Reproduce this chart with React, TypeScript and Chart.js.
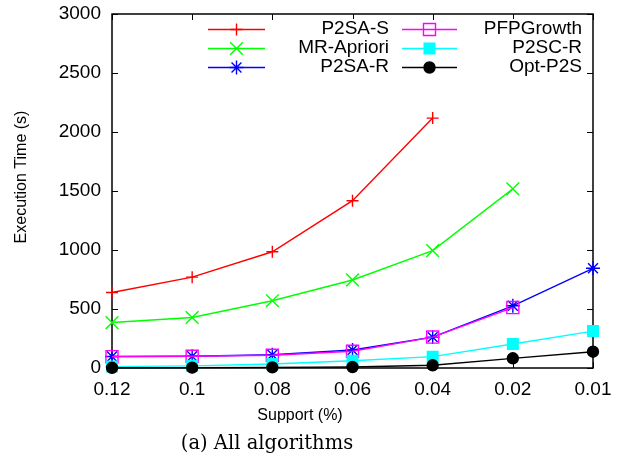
import { useEffect, useRef } from 'react';
import { Chart, registerables } from 'chart.js';

Chart.register(...registerables);

// Support thresholds (%) along the x axis
const supportLabels = ['0.12', '0.1', '0.08', '0.06', '0.04', '0.02', '0.01'];

// Execution time (s) per algorithm; null where a run was not reported
const p2saS = [640, 770, 985, 1418, 2118, null, null];
const mrApriori = [385, 428, 570, 746, 995, 1518, null];
const p2saR = [98, 100, 112, 152, 262, 527, 845];
const pfpGrowth = [96, 100, 108, 142, 262, 512, null];
const p2scR = [12, 18, 34, 62, 96, 203, 313];
const optP2S = [2, 3, 5, 8, 23, 82, 138];

const seriesNames = ['P2SA-S', 'MR-Apriori', 'P2SA-R', 'PFPGrowth', 'P2SC-R', 'Opt-P2S'];
const seriesValues = [p2saS, mrApriori, p2saR, pfpGrowth, p2scR, optP2S];
const seriesColors = ['#ff0000', '#00ff00', '#0000ff', '#ff00ff', '#00ffff', '#000000'];
const seriesMarkers = ['cross', 'crossRot', 'star', 'rect', 'rect', 'circle'];
const seriesMarkerSizes = [6, 9, 7, 8.5, 7.5, 5.5];
const seriesFilled = [false, false, false, false, true, true];

const yMax = 3000;
const yStep = 500;

const SANS = "'Liberation Sans', Arial, Helvetica, sans-serif";
const LINE_W = 1.4;

const markerFill = (i: number) => (seriesFilled[i] ? seriesColors[i] : 'rgba(0,0,0,0)');

// Same marker geometry as Chart.js point styles, for the key samples
function keyMarker(ctx: CanvasRenderingContext2D, i: number, x: number, y: number) {
  const r = seriesMarkerSizes[i];
  const d = r * Math.SQRT1_2;
  const color = seriesColors[i];
  ctx.save();
  ctx.strokeStyle = color;
  ctx.fillStyle = color;
  ctx.lineWidth = LINE_W;
  ctx.beginPath();
  switch (seriesMarkers[i]) {
    case 'cross':
      ctx.moveTo(x - r, y); ctx.lineTo(x + r, y);
      ctx.moveTo(x, y - r); ctx.lineTo(x, y + r);
      ctx.stroke();
      break;
    case 'crossRot':
      ctx.moveTo(x - d, y - d); ctx.lineTo(x + d, y + d);
      ctx.moveTo(x - d, y + d); ctx.lineTo(x + d, y - d);
      ctx.stroke();
      break;
    case 'star':
      ctx.moveTo(x - r, y); ctx.lineTo(x + r, y);
      ctx.moveTo(x, y - r); ctx.lineTo(x, y + r);
      ctx.moveTo(x - d, y - d); ctx.lineTo(x + d, y + d);
      ctx.moveTo(x - d, y + d); ctx.lineTo(x + d, y - d);
      ctx.stroke();
      break;
    case 'rect':
      ctx.rect(x - d, y - d, 2 * d, 2 * d);
      if (seriesFilled[i]) ctx.fill();
      ctx.stroke();
      break;
    case 'circle':
      ctx.arc(x, y, r, 0, Math.PI * 2);
      ctx.fill();
      ctx.stroke();
      break;
  }
  ctx.restore();
}

// Box border with inward ticks on all four sides
const framePlugin = {
  id: 'gnuFrame',
  beforeDatasetsDraw(chart: any) {
    const { ctx, chartArea: a, scales } = chart;
    const tl = 6;
    ctx.save();
    ctx.strokeStyle = '#000';
    ctx.lineWidth = 1;
    ctx.beginPath();
    scales.y.ticks.forEach((t: any) => {
      const y = Math.round(scales.y.getPixelForValue(t.value)) + 0.5;
      ctx.moveTo(a.left, y);
      ctx.lineTo(a.left + tl, y);
      ctx.moveTo(a.right, y);
      ctx.lineTo(a.right - tl, y);
    });
    supportLabels.forEach((_, i) => {
      const x = Math.round(scales.x.getPixelForValue(i)) + 0.5;
      ctx.moveTo(x, a.bottom);
      ctx.lineTo(x, a.bottom - tl);
      ctx.moveTo(x, a.top);
      ctx.lineTo(x, a.top + tl);
    });
    ctx.stroke();
    ctx.lineWidth = 1.5;
    ctx.strokeRect(a.left, a.top, a.right - a.left, a.bottom - a.top);
    ctx.restore();
  },
};

// Two-column key, axis titles and caption
const annotatePlugin = {
  id: 'gnuKey',
  afterDatasetsDraw(chart: any) {
    const ctx: CanvasRenderingContext2D = chart.ctx;
    const columns = [
      { lineFrom: 208, lineTo: 265, textRight: 389 },
      { lineFrom: 402, lineTo: 457, textRight: 582 },
    ];
    const rows = [29, 48, 67];
    seriesNames.forEach((name, i) => {
      const col = columns[Math.floor(i / 3)];
      const y = rows[i % 3];
      ctx.save();
      ctx.font = `19px ${SANS}`;
      ctx.textBaseline = 'middle';
      ctx.textAlign = 'right';
      const w = ctx.measureText(name).width;
      ctx.fillStyle = '#ffffff';
      ctx.fillRect(col.textRight - w - 1, y - 10, w + 2, 20);
      ctx.fillStyle = '#000000';
      ctx.fillText(name, col.textRight, y);
      ctx.restore();

      ctx.save();
      ctx.strokeStyle = seriesColors[i];
      ctx.lineWidth = LINE_W;
      ctx.beginPath();
      ctx.moveTo(col.lineFrom, y + 0.5);
      ctx.lineTo(col.lineTo, y + 0.5);
      ctx.stroke();
      ctx.restore();
      keyMarker(ctx, i, (col.lineFrom + col.lineTo) / 2, y + 0.5);
    });

    ctx.save();
    ctx.textAlign = 'center';
    ctx.textBaseline = 'middle';
    ctx.fillStyle = '#000';
    ctx.font = `16px ${SANS}`;
    ctx.fillText('Support (%)', 300, 416);
    ctx.save();
    ctx.translate(22, 177);
    ctx.rotate(-Math.PI / 2);
    ctx.fillText('Execution Time (s)', 0, 0);
    ctx.restore();

    ctx.font = "19.5px 'DejaVu Serif', serif";
    ctx.fillText('(a) All algorithms', 267, 444);
    ctx.restore();
  },
};

export default function App() {
  const canvasRef = useRef<HTMLCanvasElement | null>(null);

  useEffect(() => {
    const canvas = canvasRef.current;
    if (!canvas) return;
    const chart = new Chart(canvas, {
      type: 'line',
      data: {
        labels: supportLabels,
        datasets: seriesNames.map((name, i) => ({
          label: name,
          data: seriesValues[i],
          borderColor: seriesColors[i],
          backgroundColor: markerFill(i),
          borderWidth: LINE_W,
          pointStyle: seriesMarkers[i] as any,
          pointRadius: seriesMarkerSizes[i],
          pointHoverRadius: seriesMarkerSizes[i],
          pointBorderWidth: LINE_W,
          pointBorderColor: seriesColors[i],
          pointBackgroundColor: markerFill(i),
          tension: 0,
          spanGaps: false,
          clip: false as any,
          order: seriesNames.length - 1 - i,
        })),
      },
      options: {
        responsive: false,
        animation: false,
        devicePixelRatio: 1,
        layout: { padding: { left: 0, top: 14, right: 26, bottom: 0 } },
        plugins: {
          legend: { display: false },
          tooltip: { enabled: false },
        },
        scales: {
          x: {
            type: 'category',
            offset: false,
            grid: { display: false, drawTicks: false },
            border: { display: false },
            ticks: {
              color: '#000',
              font: { family: SANS, size: 19 },
              padding: 10,
              autoSkip: false,
              maxRotation: 0,
            },
            afterFit: (scale: any) => {
              scale.height = 95;
              scale.paddingLeft = 0;
              scale.paddingRight = 0;
            },
          },
          y: {
            min: 0,
            max: yMax,
            grid: { display: false, drawTicks: false },
            border: { display: false },
            ticks: {
              stepSize: yStep,
              color: '#000',
              font: { family: SANS, size: 19 },
              padding: 11,
              callback: (v: any) => String(v),
            },
            afterFit: (scale: any) => {
              scale.width = 112;
              scale.paddingTop = 0;
              scale.paddingBottom = 0;
            },
          },
        },
      },
      plugins: [framePlugin, annotatePlugin],
    });
    return () => chart.destroy();
  }, []);

  return (
    <div style={{ position: 'fixed', left: 0, top: 0, width: 619, height: 463, background: '#fff' }}>
      <canvas ref={canvasRef} width={619} height={463} />
    </div>
  );
}
